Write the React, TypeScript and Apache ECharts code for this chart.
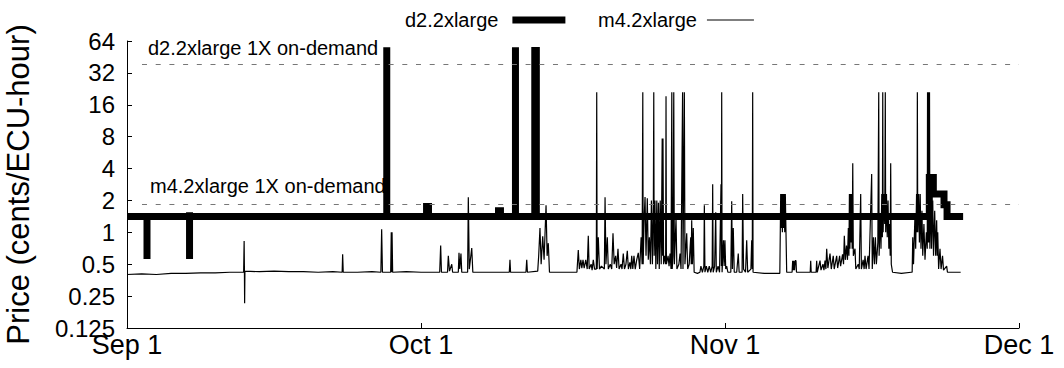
import React, { useEffect, useRef } from "react";
import * as echarts from "echarts";

// x values are days since Sep 1
const xTickDays = [0, 30, 61, 91];
const xTickLabels = ["Sep 1", "Oct 1", "Nov 1", "Dec 1"];
const yTicks = [0.125, 0.25, 0.5, 1, 2, 4, 8, 16, 32, 64];

const d2OnDemand = 39;
const m4OnDemand = 1.84;
const onDemandStartDay = 1.53;

const d2Name = "d2.2xlarge";
const m4Name = "m4.2xlarge";

const d2Price: [number, number][] = [
  [0, 1.41],
  [2.04, 1.41], [2.04, 0.56], [2.04, 1.41],
  [6.38, 1.41], [6.38, 1.55], [6.38, 0.56], [6.38, 1.41],
  [26.5, 1.41], [26.5, 56], [26.5, 1.41],
  [30.56, 1.41], [30.56, 1.75], [30.76, 1.75], [30.76, 1.41],
  [37.9, 1.41], [37.9, 1.6], [38.1, 1.6], [38.1, 1.41],
  [39.63, 1.41], [39.63, 56], [39.63, 1.41],
  [41.6, 1.41], [41.6, 52], [41.76, 52], [41.76, 1.41],
  [81.85, 1.41], [81.85, 3.3], [82.26, 3.3], [82.26, 2.3], [83.35, 2.3], [83.35, 1.82], [83.66, 1.82], [83.66, 1.41],
  [85.3, 1.41],
];

const m4Price: [number, number][] = [
  [0.0, 0.40], [1.5, 0.405], [3.0, 0.40], [4.5, 0.41], [6.0, 0.41], [7.5, 0.415], [9.0, 0.415], [10.5, 0.42],
  [11.9, 0.42], [11.95, 0.83], [11.98, 0.42], [12.0, 0.214], [12.03, 0.43],
  [13.5, 0.425], [15.0, 0.43], [16.5, 0.425], [18.0, 0.425], [19.5, 0.42], [21.0, 0.425],
  [21.95, 0.42], [22.0, 0.62], [22.06, 0.42],
  [23.5, 0.42], [25.0, 0.425],
  [25.9, 0.42], [25.98, 1.07], [26.06, 0.42],
  [26.9, 0.42], [26.96, 1.0], [27.0, 0.42], [27.04, 1.0], [27.1, 0.42],
  [28.5, 0.425], [30.0, 0.42],
  [31.9, 0.42], [32.0, 0.75], [32.08, 0.42],
  [32.7, 0.42], [32.78, 0.6], [32.9, 0.43], [33.13, 0.5], [33.22, 0.42],
  [33.8, 0.42], [33.87, 0.64], [33.95, 0.45], [34.07, 0.63], [34.15, 0.42],
  [34.75, 0.42], [34.82, 2.14], [34.92, 0.45], [35.17, 0.71], [35.28, 0.42],
  [37.0, 0.42], [39.0, 0.42], [39.07, 0.55], [39.13, 0.42],
  [40.7, 0.42], [40.78, 0.55], [40.85, 0.42],
  [41.9, 0.43], [42.0, 0.6], [42.13, 1.1], [42.25, 0.5], [42.41, 0.92], [42.55, 0.55], [42.75, 1.8], [42.86, 0.6], [42.98, 0.79], [43.1, 0.42],
  [44.5, 0.42], [45.9, 0.42],
  [46.04, 0.68], [46.15, 0.45], [46.3, 0.55], [46.4, 0.46], [46.52, 0.55], [46.64, 0.46], [46.8, 0.55], [46.95, 0.45],
  [47.06, 0.93], [47.15, 0.45], [47.35, 0.5], [47.45, 0.44], [47.57, 0.55], [47.7, 0.45], [47.88, 0.45],
  [47.92, 21], [47.96, 0.45], [48.08, 0.9], [48.2, 0.45], [48.4, 0.48], [48.7, 0.45],
  [48.77, 2.14], [48.86, 0.5], [49.0, 0.9], [49.1, 0.45], [49.3, 0.5], [49.45, 0.45],
  [49.58, 0.98], [49.7, 0.5], [49.85, 0.6], [49.95, 0.46], [50.09, 0.7], [50.2, 0.45], [50.4, 0.5], [50.5, 0.45],
  [50.63, 0.63], [50.75, 0.45], [50.9, 0.5], [51.04, 0.67], [51.15, 0.45], [51.3, 0.52], [51.4, 0.45],
  [51.49, 0.6], [51.6, 0.45], [51.72, 0.6], [51.85, 0.45], [52.0, 0.55], [52.16, 0.64], [52.3, 0.45],
  [52.45, 0.9], [52.55, 0.5], [52.62, 21], [52.66, 0.5], [52.75, 1.3], [52.85, 2.15], [52.95, 0.6],
  [53.08, 2.1], [53.18, 0.55], [53.29, 0.9], [53.4, 0.5], [53.5, 2.0], [53.6, 0.5], [53.7, 2.0],
  [53.74, 21], [53.78, 0.6], [53.86, 2.0], [53.95, 0.45], [54.05, 2.0], [54.12, 0.5], [54.22, 1.9], [54.3, 0.45],
  [54.4, 2.0], [54.5, 0.5], [54.6, 7.7], [54.64, 0.6], [54.68, 7.7], [54.74, 0.5], [54.85, 0.6], [54.95, 0.5],
  [54.99, 19.3], [55.03, 0.5], [55.2, 0.6], [55.3, 0.48], [55.4, 0.63], [55.5, 0.45],
  [55.58, 21], [55.62, 0.45], [55.7, 0.6], [55.78, 21], [55.84, 0.5], [56.01, 1.35], [56.1, 0.45],
  [56.3, 0.5], [56.42, 0.63], [56.52, 0.45], [56.68, 21], [56.72, 0.45], [56.86, 21], [56.92, 0.5],
  [57.1, 0.98], [57.2, 0.45], [57.35, 0.5], [57.51, 0.9], [57.56, 0.5], [57.61, 1.3], [57.68, 0.5],
  [57.77, 1.1], [57.86, 0.42], [58.2, 0.41],
  [58.45, 0.42], [58.55, 0.48], [58.7, 0.42], [58.85, 0.48], [58.9, 1.8], [58.96, 0.42], [59.1, 0.48],
  [59.25, 0.42], [59.4, 0.48], [59.55, 0.42], [59.7, 0.48], [59.75, 2.85], [59.8, 0.42], [59.95, 0.48],
  [60.06, 1.55], [60.12, 0.42], [60.3, 0.48], [60.45, 0.42], [60.6, 2.85], [60.64, 0.48], [60.67, 21],
  [60.71, 0.42], [60.85, 0.84], [60.92, 0.48], [61.0, 0.84], [61.08, 0.45], [61.18, 0.48], [61.3, 0.42],
  [61.6, 0.42], [61.69, 1.97], [61.76, 0.45], [61.85, 1.1], [61.95, 0.42], [62.2, 0.42], [62.36, 0.63],
  [62.45, 0.42], [62.75, 0.42], [62.81, 2.3], [62.9, 0.45], [63.1, 0.42], [63.22, 0.84], [63.32, 0.42],
  [63.65, 0.45], [63.73, 0.84], [63.79, 0.45], [63.83, 21], [63.87, 0.42],
  [65.0, 0.41], [66.6, 0.41], [66.69, 2.3], [66.75, 1.1], [66.8, 2.3], [66.86, 1.0], [66.92, 2.3],
  [66.98, 1.1], [67.04, 2.3], [67.1, 1.0], [67.16, 2.3], [67.23, 2.3], [67.3, 0.42],
  [67.85, 0.42], [67.91, 0.54], [67.97, 0.44], [68.03, 0.54], [68.1, 0.44], [68.17, 0.54], [68.25, 0.54], [68.3, 0.42],
  [69.0, 0.42], [69.7, 0.42], [69.75, 0.54],
  [69.8, 0.42], [70.3, 0.42], [70.36, 0.54], [70.42, 0.42], [70.7, 0.54], [70.8, 0.44], [71.0, 0.5],
  [71.1, 0.44], [71.21, 0.54], [71.3, 0.45], [71.38, 0.7], [71.5, 0.46], [71.72, 0.63], [71.85, 0.45],
  [72.05, 0.6], [72.15, 0.45], [72.4, 0.6], [72.5, 0.46], [72.7, 0.6], [72.8, 0.48], [73.0, 0.62],
  [73.1, 0.5], [73.18, 0.93], [73.28, 0.55], [73.4, 0.75], [73.5, 0.55], [73.59, 1.1], [73.65, 0.6],
  [73.7, 2.3], [73.75, 0.7], [73.8, 2.3], [73.86, 0.8], [73.92, 2.3], [73.98, 0.7], [74.04, 4.5],
  [74.1, 0.6], [74.27, 0.7], [74.35, 0.45], [74.6, 0.5], [74.7, 0.45], [74.85, 2.3], [74.92, 0.45],
  [75.1, 0.55], [75.2, 0.45], [75.29, 0.6], [75.4, 0.45], [75.6, 0.6], [75.7, 0.45], [75.97, 3.55],
  [76.03, 0.45], [76.15, 0.9], [76.25, 0.5], [76.35, 0.9], [76.45, 0.5], [76.6, 0.8], [76.69, 21],
  [76.73, 0.6], [76.85, 1.5], [76.92, 0.7], [77.0, 2.3], [77.06, 0.9], [77.1, 21], [77.14, 1.0],
  [77.22, 2.3], [77.3, 1.2], [77.36, 21], [77.4, 1.0], [77.48, 2.3], [77.56, 0.9], [77.64, 2.0],
  [77.72, 0.7], [77.8, 1.2], [77.86, 0.6], [77.91, 4.5], [77.97, 0.5], [78.1, 0.42], [79.0, 0.41],
  [80.0, 0.42], [80.1, 0.42], [80.16, 0.9], [80.24, 0.5], [80.39, 1.5], [80.46, 0.7], [80.55, 2.3],
  [80.6, 1.0], [80.63, 21], [80.67, 1.0], [80.76, 2.3], [80.84, 0.8], [80.92, 2.3], [81.0, 0.7],
  [81.1, 1.6], [81.18, 0.6], [81.3, 1.2], [81.41, 0.55], [81.55, 1.0], [81.64, 0.7], [81.67, 21],
  [81.71, 0.8], [81.77, 21], [81.81, 0.8], [81.87, 21], [81.91, 0.7], [82.0, 2.3], [82.08, 0.7],
  [82.2, 2.0], [82.28, 0.6], [82.4, 1.6], [82.5, 0.6], [82.6, 1.3], [82.66, 0.6], [82.71, 1.0],
  [82.8, 0.45], [82.94, 0.7], [83.05, 0.45], [83.2, 0.6], [83.3, 0.44], [83.62, 0.48], [83.7, 0.42],
  [85.05, 0.42],
];

const FONT = "'Liberation Sans', Arial, Helvetica, sans-serif";

export default function App() {
  const ref = useRef<HTMLDivElement>(null);
  useEffect(() => {
    if (!ref.current) return;
    const chart = echarts.init(ref.current, undefined, { renderer: "svg" });
    const fmtY = (v: number) => String(Number(Number(v).toPrecision(6)));
    chart.setOption({
      animation: false,
      backgroundColor: "#fff",
      textStyle: { fontFamily: FONT, color: "#000" },
      grid: { left: 127, right: 45, top: 41, bottom: 40, containLabel: false, outerBoundsMode: "none" },
      legend: [
        {
          data: [d2Name],
          left: 400,
          top: 5,
          align: "right",
          icon: "rect",
          itemWidth: 53,
          itemHeight: 7,
          selectedMode: false,
          textStyle: { fontSize: 20, fontFamily: FONT, color: "#000", padding: [0, 9, 0, 0] },
        },
        {
          data: [m4Name],
          left: 593,
          top: 5,
          align: "right",
          icon: "rect",
          itemWidth: 47,
          itemHeight: 1,
          selectedMode: false,
          textStyle: { fontSize: 20, fontFamily: FONT, color: "#000", padding: [0, 5, 0, 0] },
        },
      ],
      xAxis: {
        type: "value",
        min: 0,
        max: 91,
        splitLine: { show: false },
        axisLine: { show: true, lineStyle: { color: "#000", width: 1 } },
        axisTick: { show: true, inside: true, length: 5, customValues: xTickDays, lineStyle: { color: "#000" } },
        axisLabel: {
          customValues: xTickDays,
          formatter: (v: number) => {
            const i = xTickDays.indexOf(Math.round(v));
            return i >= 0 ? xTickLabels[i] : "";
          },
          fontSize: 27,
          fontFamily: FONT,
          color: "#000",
          margin: 3,
        },
      },
      yAxis: {
        type: "log",
        logBase: 2,
        min: yTicks[0],
        max: yTicks[yTicks.length - 1],
        splitNumber: yTicks.length - 1,
        name: "Price (cents/ECU-hour)",
        nameLocation: "middle",
        nameRotate: 90,
        nameGap: 93,
        nameTextStyle: { fontSize: 31, fontFamily: FONT, color: "#000" },
        splitLine: { show: false },
        axisLine: { show: true, lineStyle: { color: "#000", width: 1 } },
        axisTick: { show: true, inside: true, length: 5, lineStyle: { color: "#000" } },
        axisLabel: { formatter: fmtY, fontSize: 24, fontFamily: FONT, color: "#000", margin: 12 },
      },
      series: [
        {
          name: m4Name,
          type: "line",
          data: m4Price,
          symbol: "none",
          silent: true,
          z: 2,
          itemStyle: { color: "#000" },
          lineStyle: { color: "#000", width: 1.2 },
          markLine: {
            silent: true,
            symbol: "none",
            lineStyle: { color: "#777", width: 1, type: [5, 8.7] },
            label: {
              show: true,
              position: "insideStartTop",
              fontSize: 20,
              fontFamily: FONT,
              color: "#000",
            },
            data: [
              [
                { coord: [onDemandStartDay, d2OnDemand], label: { formatter: "d2.2xlarge 1X on-demand", distance: 6 } },
                { coord: [xTickDays[xTickDays.length - 1], d2OnDemand] },
              ],
              [
                { coord: [onDemandStartDay, m4OnDemand], label: { formatter: "m4.2xlarge 1X on-demand", distance: 8 } },
                { coord: [xTickDays[xTickDays.length - 1], m4OnDemand] },
              ],
            ],
          },
        },
        {
          name: d2Name,
          type: "line",
          data: d2Price,
          symbol: "none",
          silent: true,
          z: 3,
          itemStyle: { color: "#000" },
          lineStyle: { color: "#000", width: 7, join: "miter", cap: "butt" },
        },
      ],
    });
    return () => chart.dispose();
  }, []);
  return (
    <div
      ref={ref}
      style={{ position: "absolute", left: 0, top: 0, width: 1064, height: 368, background: "#fff" }}
    />
  );
}
